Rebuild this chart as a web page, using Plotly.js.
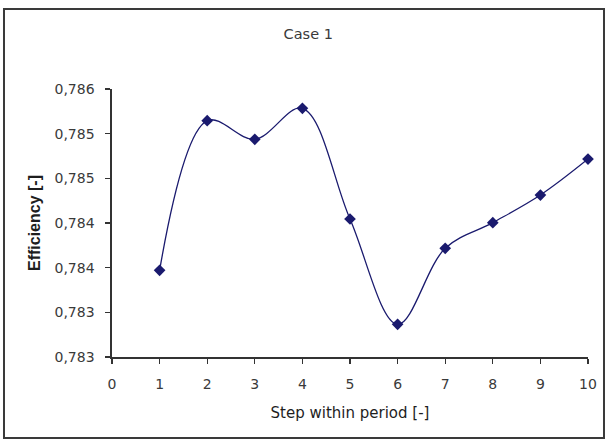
<!DOCTYPE html>
<html>
<head>
<meta charset="utf-8">
<script src="https://cdn.plot.ly/plotly-3.0.1.min.js"></script>
<style>html,body{margin:0;padding:0;background:#fff;}#chart{width:608px;height:439px;}</style>
</head>
<body>
<div id="chart"></div>
<script>
// Data
var steps = [1, 2, 3, 4, 5, 6, 7, 8, 9, 10];
var efficiency = [0.78397, 0.785645, 0.785437, 0.785784, 0.784545, 0.783366, 0.784217, 0.784504, 0.784813, 0.785216];
var yTickValues = [0.783, 0.7835, 0.784, 0.7845, 0.785, 0.7855, 0.786];
var yTickLabels = ["0,783", "0,783", "0,784", "0,784", "0,785", "0,785", "0,786"];
var xTickValues = [0, 1, 2, 3, 4, 5, 6, 7, 8, 9, 10];
var xTickLabels = ["0", "1", "2", "3", "4", "5", "6", "7", "8", "9", "10"];
var chartTitle = "Case 1";
var xTitle = "Step within period [-]";
var yTitle = "Efficiency [-]";

var FONT = "DejaVu Sans, Arial, sans-serif";
var FONT_Y = "Liberation Sans, Arial, sans-serif";
var navy = "#1a1a6e";
var textGray = "#3a3a3a";

var trace = {
  x: steps,
  y: efficiency,
  type: "scatter",
  mode: "lines+markers",
  line: {color: navy, width: 1.3, shape: "spline", smoothing: 1},
  marker: {symbol: "diamond", size: 9, color: navy},
  cliponaxis: false,
  hoverinfo: "x+y"
};

var layout = {
  width: 608,
  height: 439,
  margin: {l: 112, r: 20, t: 89, b: 82},
  paper_bgcolor: "#ffffff",
  plot_bgcolor: "#ffffff",
  showlegend: false,
  font: {family: FONT, size: 14, color: textGray},
  title: {
    text: chartTitle,
    x: 0.507, xref: "container", xanchor: "center",
    y: 0.9226, yref: "container", yanchor: "middle",
    font: {family: FONT, size: 14.5, color: textGray}
  },
  xaxis: {
    range: [0, 10],
    tickvals: xTickValues,
    ticktext: xTickLabels,
    ticks: "outside",
    ticklen: 5,
    tickwidth: 1.2,
    tickcolor: "#333333",
    ticklabelstandoff: 9,
    showline: true,
    linecolor: "#333333",
    linewidth: 1.6,
    showgrid: false,
    zeroline: false,
    tickfont: {family: FONT, size: 14, color: textGray},
    title: {text: xTitle, standoff: 16, font: {family: FONT, size: 15, color: "#1e1e1e"}}
  },
  yaxis: {
    range: [0.783, 0.786],
    tickvals: yTickValues,
    ticktext: yTickLabels,
    ticks: "outside",
    ticklen: 5,
    tickwidth: 1.2,
    tickcolor: "#333333",
    ticklabelstandoff: 8,
    showline: true,
    linecolor: "#333333",
    linewidth: 1.6,
    showgrid: false,
    zeroline: false,
    tickfont: {family: FONT, size: 14, color: textGray},
    title: {text: "<b>" + yTitle + "</b>", standoff: 10, font: {family: FONT_Y, size: 16, color: "#1e1e1e"}}
  },
  shapes: [{
    type: "rect",
    xref: "paper", yref: "paper",
    x0: -0.2269, x1: 1.0336,
    y0: -0.3022, y1: 1.2985,
    line: {color: "#3a3a3a", width: 2},
    fillcolor: "rgba(0,0,0,0)",
    layer: "below"
  }]
};

Plotly.newPlot("chart", [trace], layout, {displayModeBar: false, staticPlot: true});
</script>
</body>
</html>
